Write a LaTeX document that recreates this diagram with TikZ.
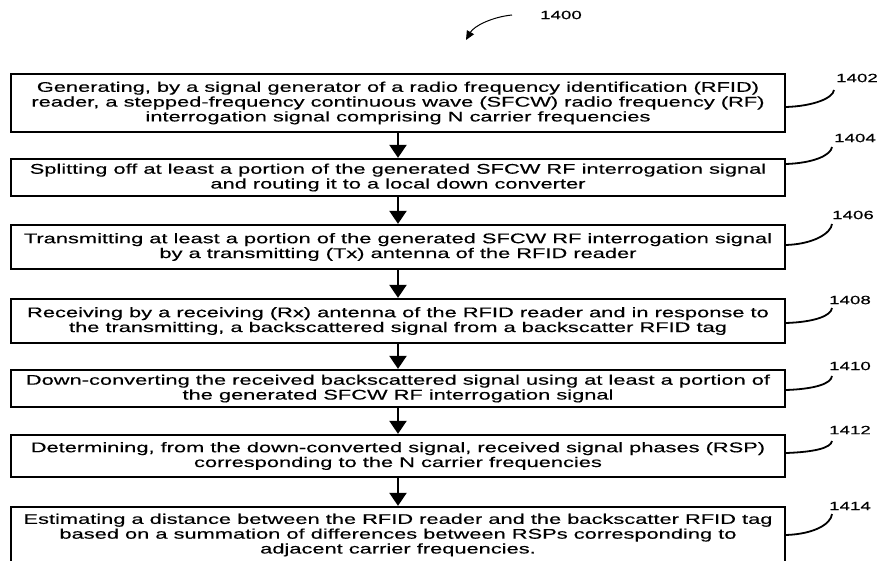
\documentclass[tikz,border=0pt]{standalone}
\usepackage{fontspec}
\setmainfont{Liberation Sans}[FakeStretch=1.56,FakeBold=0.35]
\usetikzlibrary{arrows.meta}
\begin{document}
\begin{tikzpicture}[x=1pt,y=-1pt,
  stepbox/.style={draw=black, line width=2.3pt, minimum width=774pt, inner sep=0pt, align=center,
    font=\fontsize{14}{14.8}\selectfont},
  flow/.style={line width=2.2pt, -{Triangle[width=17pt,length=13pt]}},
  ref/.style={font=\fontsize{12}{13}\selectfont, inner sep=0pt},
  hook/.style={line width=1.8pt}]
\useasboundingbox (0,0) rectangle (880,561);
% boxes
\node[stepbox, minimum height=58pt] (b1) at (398,103)
  {Generating, by a signal generator of a radio frequency identification (RFID)\\
   reader, a stepped-frequency continuous wave (SFCW) radio frequency (RF)\\
   interrogation signal comprising N carrier frequencies};
\node[stepbox, minimum height=37pt] (b2) at (398,177.5)
  {Splitting off at least a portion of the generated SFCW RF interrogation signal\\
   and routing it to a local down converter};
\node[stepbox, minimum height=44pt] (b3) at (398,247)
  {Transmitting at least a portion of the generated SFCW RF interrogation signal\\
   by a transmitting (Tx) antenna of the RFID reader};
\node[stepbox, minimum height=44pt] (b4) at (398,321)
  {Receiving by a receiving (Rx) antenna of the RFID reader and in response to\\
   the transmitting, a backscattered signal from a backscatter RFID tag};
\node[stepbox, minimum height=37pt] (b5) at (398,388.5)
  {Down-converting the received backscattered signal using at least a portion of\\
   the generated SFCW RF interrogation signal};
\node[stepbox, minimum height=42pt] (b6) at (398,456)
  {Determining, from the down-converted signal, received signal phases (RSP)\\
   corresponding to the N carrier frequencies};
\node[stepbox, minimum height=68pt] (b7) at (398,541)
  {Estimating a distance between the RFID reader and the backscatter RFID tag\\
   based on a summation of differences between RSPs corresponding to\\
   adjacent carrier frequencies.\\ \mbox{}};
% flow arrows
\draw[flow] (b1) -- (b2);
\draw[flow] (b2) -- (b3);
\draw[flow] (b3) -- (b4);
\draw[flow] (b4) -- (b5);
\draw[flow] (b5) -- (b6);
\draw[flow] (b6) -- (b7);
% reference numerals
\node[ref] (l0) at (561,15) {1400};
\coordinate (t0) at (512,15);
\coordinate (a0) at (466,40);
\draw[line width=1pt, -{Triangle[width=8pt,length=9pt]}] (t0) .. controls (492,17) and (474,26) .. (a0);
\node[ref] (l1) at (857,78) {1402};
\node[ref] (l2) at (855,138) {1404};
\node[ref] (l3) at (853,215) {1406};
\node[ref] (l4) at (850,300) {1408};
\node[ref] (l5) at (850,366) {1410};
\node[ref] (l6) at (850,430) {1412};
\node[ref] (l7) at (850,506) {1414};
\coordinate (h1) at (834,90);
\coordinate (h2) at (832,147);
\coordinate (h3) at (832,224);
\coordinate (h4) at (832,308);
\coordinate (h5) at (832,376);
\coordinate (h6) at (832,441);
\coordinate (h7) at (832,514);
\draw[hook] (b1.east |- 0,107) .. controls +(28,-1) and +(-1,8) .. (h1);
\draw[hook] (b2.east |- 0,164) .. controls +(28,-1) and +(-1,8) .. (h2);
\draw[hook] (b3.east |- 0,245) .. controls +(28,-1) and +(-1,9) .. (h3);
\draw[hook] (b4.east |- 0,323) .. controls +(28,-1) and +(-1,8) .. (h4);
\draw[hook] (b5.east |- 0,390) .. controls +(28,-1) and +(-1,8) .. (h5);
\draw[hook] (b6.east |- 0,453) .. controls +(28,-1) and +(-1,7) .. (h6);
\draw[hook] (b7.east |- 0,535) .. controls +(28,-1) and +(-1,10) .. (h7);
\end{tikzpicture}
\end{document}
